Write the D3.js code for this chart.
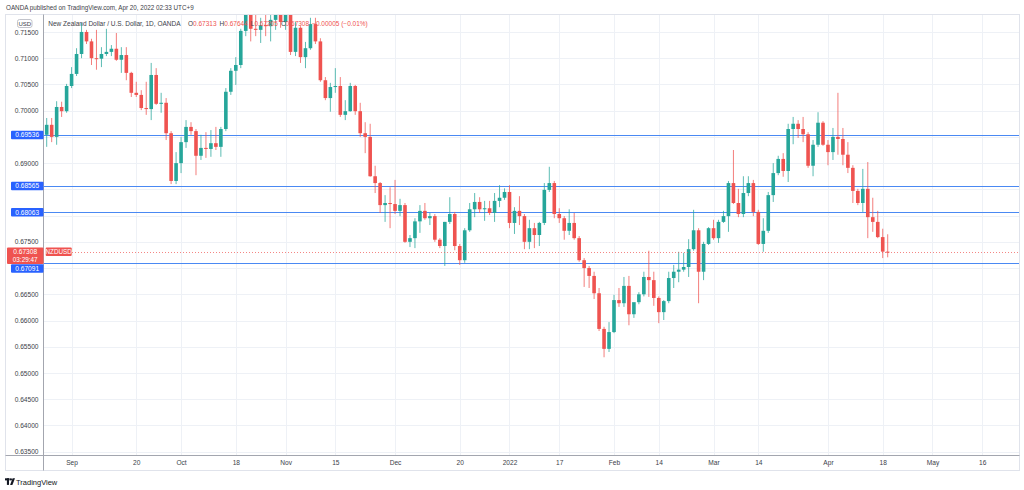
<!DOCTYPE html>
<html><head><meta charset="utf-8">
<script src="https://cdn.jsdelivr.net/npm/d3@7"></script>
<style>
body{margin:0;background:#fff}
svg{display:block;font-family:"Liberation Sans",Arial,sans-serif}
</style></head>
<body><svg id="c" width="1024" height="490"></svg>
<script>
// ---------------- data ----------------
const firstDay = "2021-08-25";
const lastAxisDay = "2022-06-01";
const opens = [
.6954,.6973,.6950,.7007,.6999,.7047,.7070,.7108,.7150,.7132,
.7100,.7099,.7108,.7112,.7118,.7097,.7106,.7072,.7034,.7030,
.7005,.7003,.7068,.7013,.7015,.6957,.6866,.6900,.6940,.6969,
.6961,.6914,.6929,.6927,.6938,.6931,.6965,.7036,.7076,.7087,
.7152,.7188,.7156,.7154,.7163,.7161,.7173,.7196,.7169,.7188,
.7112,.7158,.7102,.7119,.7165,.7132,.7058,.7024,.7045,.7047,
.6992,.6999,.7047,.6999,.6957,.6950,.6875,.6862,.6820,.6824,
.6822,.6809,.6820,.6750,.6757,.6789,.6809,.6795,.6799,.6754,
.6742,.6788,.6803,.6742,.6715,.6772,.6812,.6826,.6812,.6814,
.6805,.6828,.6834,.6845,.6786,.6809,.6799,.6750,.6776,.6763,
.6786,.6849,.6862,.6803,.6795,.6771,.6786,.6757,.6715,.6700,
.6685,.6652,.6584,.6546,.6578,.6639,.6633,.6666,.6612,.6635,
.6650,.6683,.6677,.6643,.6616,.6637,.6681,.6693,.6697,.6702,
.6736,.6772,.6693,.6746,.6776,.6757,.6788,.6799,.6862,.6824,
.6803,.6843,.6862,.6807,.6746,.6771,.6839,.6881,.6908,.6885,
.6965,.6975,.6965,.6955,.6895,.6935,.6977,.6935,.6921,.6950,
.6946,.6916,.6891,.6847,.6824,.6851,.6797,.6788,.6759,.67313];
const highs = [
.6986,.6986,.7018,.7017,.7051,.7083,.7119,.7167,.7154,.7137,
.7154,.7121,.7156,.7125,.7148,.7121,.7121,.7074,.7055,.7039,
.7055,.7091,.7081,.7034,.7024,.6961,.6921,.6950,.6982,.6978,
.6965,.6954,.6959,.6963,.6969,.6969,.7043,.7081,.7102,.7156,
.7196,.7200,.7184,.7177,.7188,.7200,.7201,.7203,.7200,.7192,
.7169,.7161,.7131,.7177,.7177,.7138,.7064,.7053,.7081,.7064,
.7020,.7053,.7049,.7015,.6978,.6975,.6895,.6864,.6839,.6854,
.6868,.6832,.6824,.6763,.6795,.6820,.6824,.6805,.6803,.6757,
.6788,.6835,.6807,.6746,.6776,.6824,.6843,.6835,.6828,.6828,
.6843,.6858,.6852,.6858,.6816,.6837,.6803,.6792,.6786,.6788,
.6862,.6893,.6866,.6814,.6799,.6812,.6805,.6761,.6719,.6704,
.6693,.6662,.6588,.6597,.6649,.6662,.6683,.6685,.6630,.6654,
.6693,.6733,.6693,.6646,.6639,.6693,.6706,.6731,.6729,.6755,
.6811,.6776,.6750,.6778,.6792,.6792,.6809,.6866,.6925,.6851,
.6875,.6875,.6868,.6811,.6795,.6845,.6900,.6914,.6919,.6975,
.6988,.6982,.6988,.6959,.6944,.6997,.6980,.6944,.6967,.7034,
.6967,.6940,.6896,.6851,.6889,.6902,.6834,.6809,.6775,.67644];
const lows = [
.6931,.6940,.6935,.6988,.6996,.7043,.7066,.7100,.7127,.7087,
.7078,.7083,.7104,.7104,.7095,.7072,.7058,.7026,.7026,.7001,
.6992,.6982,.7011,.6996,.6944,.6860,.6860,.6881,.6929,.6954,
.6877,.6906,.6910,.6912,.6925,.6912,.6961,.7030,.7049,.7081,
.7142,.7132,.7142,.7129,.7142,.7132,.7154,.7158,.7154,.7106,
.7104,.7091,.7081,.7116,.7127,.7055,.7020,.6998,.7034,.6988,
.6982,.6998,.6992,.6950,.6919,.6874,.6843,.6805,.6788,.6776,
.6803,.6799,.6748,.6740,.6738,.6767,.6792,.6782,.6750,.6738,
.6704,.6784,.6734,.6706,.6710,.6769,.6797,.6805,.6790,.6801,
.6788,.6816,.6830,.6776,.6765,.6782,.6736,.6736,.6738,.6742,
.6782,.6845,.6795,.6786,.6754,.6763,.6754,.6712,.6664,.6662,
.6641,.6580,.6530,.6540,.6576,.6626,.6626,.6591,.6605,.6631,
.6646,.6645,.6628,.6595,.6601,.6633,.6662,.6673,.6693,.6683,
.6733,.6633,.6677,.6744,.6754,.6748,.6786,.6769,.6822,.6797,
.6797,.6837,.6799,.6744,.6731,.6767,.6826,.6877,.6874,.6864,
.6936,.6948,.6940,.6891,.6875,.6931,.6933,.6896,.6906,.6916,
.6896,.6881,.6824,.6820,.6807,.6757,.6769,.6757,.6719,.67205];
const closes = [
.6973,.6950,.7007,.6999,.7047,.7070,.7108,.7150,.7132,.7100,
.7099,.7108,.7112,.7118,.7097,.7106,.7072,.7034,.7030,.7005,
.7003,.7068,.7013,.7015,.6957,.6866,.6900,.6940,.6969,.6961,
.6914,.6929,.6927,.6938,.6931,.6965,.7036,.7076,.7087,.7152,
.7188,.7156,.7154,.7163,.7161,.7173,.7196,.7169,.7188,.7112,
.7158,.7102,.7119,.7165,.7132,.7058,.7024,.7045,.7047,.6992,
.6999,.7047,.6999,.6957,.6950,.6875,.6862,.6820,.6824,.6822,
.6809,.6820,.6750,.6757,.6789,.6809,.6795,.6799,.6754,.6742,
.6788,.6803,.6742,.6715,.6772,.6812,.6826,.6812,.6814,.6805,
.6828,.6834,.6845,.6786,.6809,.6799,.6750,.6776,.6763,.6786,
.6849,.6862,.6803,.6795,.6771,.6786,.6757,.6715,.6700,.6685,
.6652,.6584,.6546,.6578,.6639,.6633,.6666,.6612,.6635,.6650,
.6683,.6677,.6643,.6616,.6637,.6681,.6693,.6697,.6702,.6736,
.6772,.6693,.6746,.6776,.6757,.6788,.6799,.6862,.6824,.6803,
.6843,.6862,.6807,.6746,.6771,.6839,.6881,.6908,.6885,.6965,
.6975,.6965,.6955,.6895,.6935,.6977,.6935,.6921,.6950,.6946,
.6916,.6891,.6847,.6824,.6851,.6797,.6788,.6759,.67313,.67308];
const tickDates = ["2021-09-01","2021-09-20","2021-10-01","2021-10-18","2021-11-01","2021-11-15",
  "2021-12-01","2021-12-20","2022-01-03","2022-01-17","2022-02-01","2022-02-14",
  "2022-03-01","2022-03-14","2022-04-01","2022-04-18","2022-05-02","2022-05-16"];
const tickLabels = ["Sep","20","Oct","18","Nov","15","Dec","20","2022","17","Feb","14","Mar","14","Apr","18","May","16"];
const priceTicks = [0.635,0.640,0.645,0.650,0.655,0.660,0.665,0.670,0.675,0.680,0.685,0.690,0.695,0.700,0.705,0.710,0.715];
const levelLines = [0.69536,0.68565,0.68063,0.67091];
const lastPrice = 0.67308;
const countdown = "03:29:47";
const symbol = "NZDUSD";
const titleText = "New Zealand Dollar / U.S. Dollar, 1D, OANDA";
const ohlcLabels = ["O","H","L","C"];
const lastOHLC = ["0.67313","0.67644","0.67205","0.67308"];
const changeText = "\u22120.00005 (\u22120.01%)";
const headerText = "OANDA published on TradingView.com, Apr 20, 2022 02:33 UTC+9";

// ---------------- layout ----------------
const UP = "#26a69a", DOWN = "#ef5350", BLUE = "#2962ff";
const P = {l:43.5, t:14.5, r:1019.5, b:455.5};
const svg = d3.select("#c");
svg.append("rect").attr("width",1024).attr("height",490).attr("fill","#fff");

const fmt = d3.timeFormat("%Y-%m-%d");
const parse = d3.timeParse("%Y-%m-%d");
const days = d3.timeDay.range(parse(firstDay), parse(lastAxisDay)).filter(d => d.getDay() % 6 !== 0);
const dayIndex = new Map(days.map((d,i)=>[fmt(d),i]));

const x = d3.scaleLinear().domain([0, closes.length-1]).range([46.7, 887.7]);
const y = d3.scaleLinear().domain([0.635, 0.715]).range([451.7, 31.95]);

const defs = svg.append("defs");
defs.append("clipPath").attr("id","clip").append("rect")
  .attr("x",P.l+0.5).attr("y",P.t+0.5).attr("width",P.r-P.l-1).attr("height",P.b-P.t-1);

// grid
const grid = svg.append("g").attr("clip-path","url(#clip)");
grid.selectAll("line.h").data(priceTicks).join("line")
  .attr("x1",P.l).attr("x2",P.r)
  .attr("y1",d=>Math.round(y(d))+0.5).attr("y2",d=>Math.round(y(d))+0.5)
  .attr("stroke","#eef1f6");
const tickIdx = tickDates.map(d => dayIndex.get(d));
grid.selectAll("line.v").data(tickIdx).join("line")
  .attr("x1",d=>Math.round(x(d))+0.5).attr("x2",d=>Math.round(x(d))+0.5)
  .attr("y1",P.t).attr("y2",P.b)
  .attr("stroke","#eef1f6");

// frame
svg.append("rect").attr("x",5.5).attr("y",P.t).attr("width",P.r-5.5).attr("height",470.5-P.t)
  .attr("fill","none").attr("stroke","#e0e3eb");
svg.append("line").attr("x1",P.l).attr("x2",P.l).attr("y1",P.t).attr("y2",470.5).attr("stroke","#a3a6af");
svg.append("line").attr("x1",5.5).attr("x2",P.r).attr("y1",P.b).attr("y2",P.b).attr("stroke","#a3a6af").attr("stroke-width",1.2);

// level lines
grid.selectAll("line.lvl").data(levelLines).join("line")
  .attr("x1",P.l).attr("x2",P.r)
  .attr("y1",d=>Math.round(y(d))+0.5).attr("y2",d=>Math.round(y(d))+0.5)
  .attr("stroke","#4a89f3").attr("stroke-width",1);

// candles
const data = closes.map((c,i)=>({i, o:opens[i], h:highs[i], l:lows[i], c}));
const cg = svg.append("g").attr("clip-path","url(#clip)");
cg.selectAll("line.wick").data(data).join("line")
  .attr("x1",d=>x(d.i)).attr("x2",d=>x(d.i))
  .attr("y1",d=>y(d.h)).attr("y2",d=>y(d.l))
  .attr("stroke",d=>d.c>=d.o?UP:DOWN).attr("stroke-width",1).attr("stroke-opacity",0.75);
const bw = 3.6;
cg.selectAll("rect.body").data(data).join("rect")
  .attr("x",d=>x(d.i)-bw/2).attr("width",bw)
  .attr("y",d=>y(Math.max(d.o,d.c)))
  .attr("height",d=>Math.max(1, Math.abs(y(d.o)-y(d.c))))
  .attr("fill",d=>d.c>=d.o?UP:DOWN);

// last price dotted line
const yl = Math.round(y(lastPrice))+0.5;
cg.append("line").attr("x1",72).attr("x2",P.r).attr("y1",yl).attr("y2",yl)
  .attr("stroke",DOWN).attr("stroke-dasharray","1,2").attr("stroke-opacity",0.7);

// y axis labels
const boxYs = levelLines.map(v=>y(v)).concat([y(lastPrice)]);
const shownTicks = priceTicks.filter(t => boxYs.every(b => Math.abs(y(t)-b) > 7.5));
const yAxis = d3.axisLeft(y).tickValues(shownTicks).tickFormat(d3.format(".5f")).tickSize(0).tickPadding(0);
const ya = svg.append("g").attr("transform","translate(38.5,0)").call(yAxis);
ya.select(".domain").remove();
ya.selectAll("text").attr("font-size",6.6).attr("fill","#3b3e48").attr("font-family","Liberation Sans, Arial, sans-serif");

// x axis labels
const xAxis = d3.axisBottom(x).tickValues(tickIdx).tickFormat((d,i)=>tickLabels[i]).tickSize(0).tickPadding(0);
const xa = svg.append("g").attr("transform","translate(0,460.5)").call(xAxis);
xa.select(".domain").remove();
xa.selectAll("text").attr("font-size",6.6).attr("fill","#3b3e48").attr("font-family","Liberation Sans, Arial, sans-serif");

// level boxes on axis
const boxH = 8.5;
const lvlBoxes = levelLines.map(v => ({v, top: y(v) - boxH/2}));
const lpTop = y(lastPrice) - 4.3, lpBot = y(lastPrice) + 12;
lvlBoxes.forEach(b => { if (b.top < lpBot && b.top + boxH > lpTop) b.top = lpBot + 0.3; });
const lb = svg.append("g");
lb.selectAll("rect").data(lvlBoxes).join("rect")
  .attr("x",11).attr("y",d=>d.top).attr("width",32.5).attr("height",boxH).attr("rx",1)
  .attr("fill",BLUE);
lb.selectAll("text").data(lvlBoxes).join("text")
  .attr("x",27.2).attr("y",d=>d.top+boxH/2+2.3).attr("text-anchor","middle")
  .attr("font-size",6.6).attr("fill","#fff").text(d=>d.v.toFixed(5));

// last price box
svg.append("rect").attr("x",7).attr("y",lpTop).attr("width",36.5).attr("height",lpBot-lpTop).attr("rx",1).attr("fill",DOWN);
svg.append("text").attr("x",25.2).attr("y",y(lastPrice)+2.3).attr("text-anchor","middle")
  .attr("font-size",6.6).attr("fill","#fff").text(lastPrice.toFixed(5));
svg.append("text").attr("x",25.2).attr("y",y(lastPrice)+9.8).attr("text-anchor","middle")
  .attr("font-size",6.4).attr("fill","#fff").text(countdown);
svg.append("rect").attr("x",45.7).attr("y",lpTop).attr("width",26).attr("height",8.4).attr("rx",1).attr("fill",DOWN);
svg.append("text").attr("x",58.7).attr("y",y(lastPrice)+2.3).attr("text-anchor","middle")
  .attr("font-size",6.3).attr("fill","#fff").text(symbol);

// USD box
svg.append("rect").attr("x",17.5).attr("y",19.5).attr("width",14.5).attr("height",8).attr("rx",2)
  .attr("fill","#fff").attr("stroke","#b2b5be").attr("stroke-width",0.8);
svg.append("text").attr("x",24.75).attr("y",25.8).attr("text-anchor","middle")
  .attr("font-size",6).attr("fill","#3b3e48").text("USD");

// legend
svg.append("text").attr("x",48.3).attr("y",25.6).attr("font-size",6.5).attr("fill","#3b3e48").text(titleText);
const lg = svg.append("text").attr("x",188).attr("y",25.6).attr("font-size",6.5).attr("fill","#3b3e48");
ohlcLabels.forEach((l,i)=>{
  lg.append("tspan").attr("fill","#3b3e48").attr("dx", i===0?0:3).text(l);
  lg.append("tspan").attr("fill",DOWN).text(lastOHLC[i]);
});
lg.append("tspan").attr("fill",DOWN).attr("dx",3).text(changeText);

// header
svg.append("text").attr("x",6).attr("y",9.6).attr("font-size",6.3).attr("fill","#3b3e48").text(headerText);

// footer logo
const logo = svg.append("g").attr("fill","#131722");
logo.append("rect").attr("x",5).attr("y",478.3).attr("width",4.6).attr("height",2.1);
logo.append("rect").attr("x",6.9).attr("y",478.3).attr("width",2.1).attr("height",6.6);
logo.append("circle").attr("cx",10.9).attr("cy",479.4).attr("r",1.1);
logo.append("path").attr("d","M12.6,478.3 L15,478.3 L12.4,484.9 L10.1,484.9 Z");
svg.append("text").attr("x",16).attr("y",484.5).attr("font-size",7.5).attr("fill","#131722").text("TradingView");
</script>
</body></html>
